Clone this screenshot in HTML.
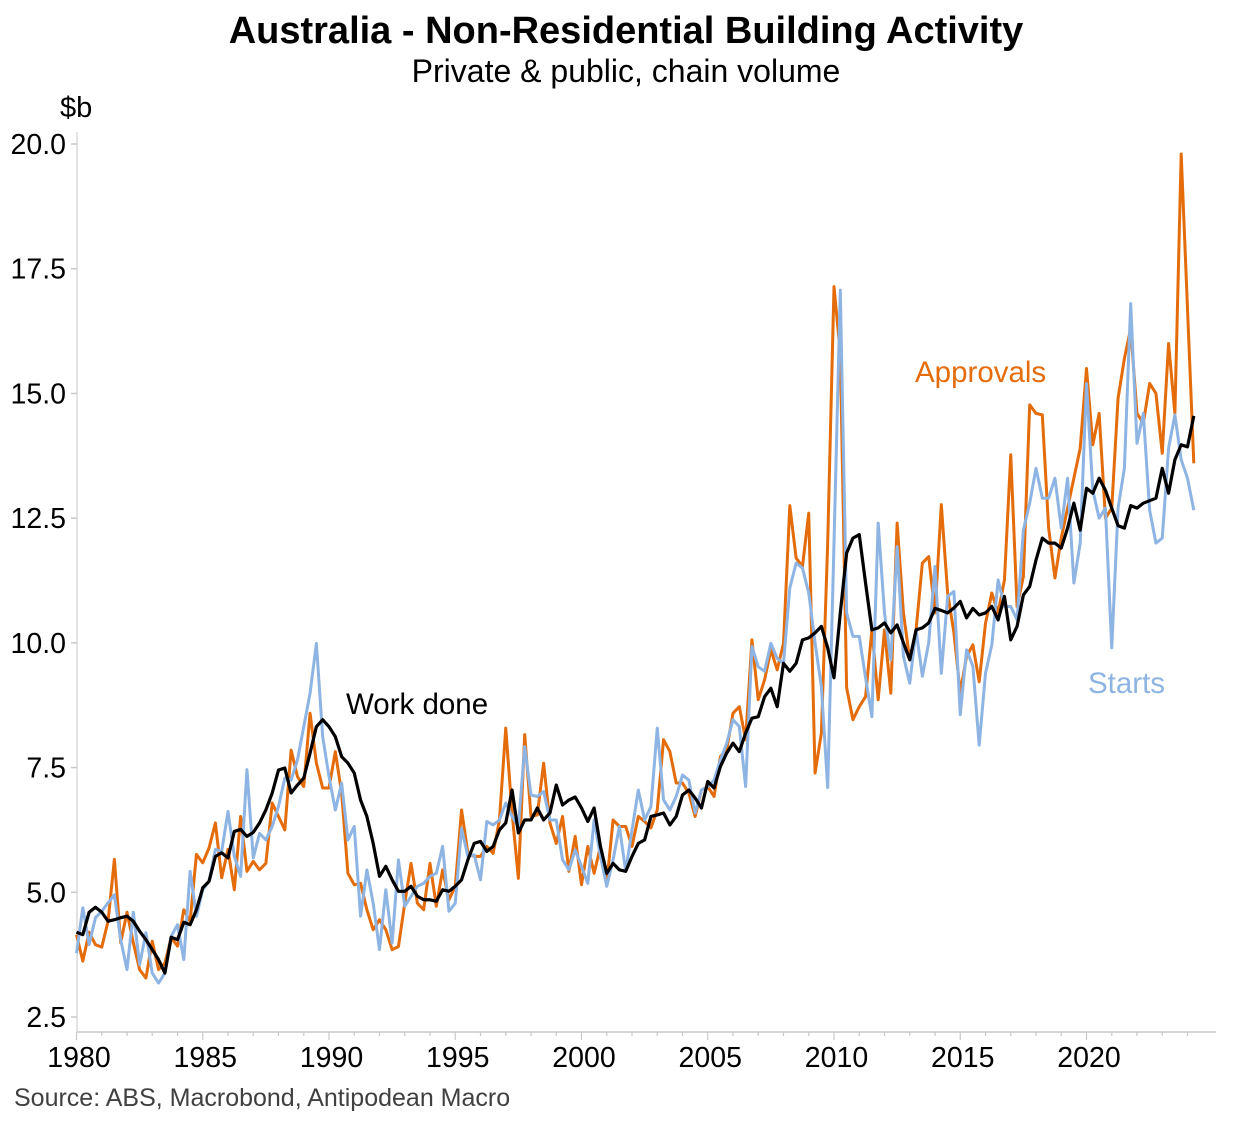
<!DOCTYPE html>
<html><head><meta charset="utf-8"><style>
html,body{margin:0;padding:0;background:#fff;}
svg text{font-family:"Liberation Sans",Arial,sans-serif;}
</style></head><body>
<svg id="chart" width="1253" height="1122" viewBox="0 0 1253 1122" xmlns="http://www.w3.org/2000/svg">
<text x="626" y="43" text-anchor="middle" font-size="38" font-weight="bold">Australia - Non-Residential Building Activity</text>
<text x="626" y="82" text-anchor="middle" font-size="32">Private &amp; public, chain volume</text>
<text x="60" y="117" font-size="29">$b</text>
<g id="axes"></g>
<g id="series"></g>
<text x="915" y="382" font-size="29.5" fill="#E46C0A">Approvals</text>
<text x="346" y="714" font-size="29.5" fill="#000">Work done</text>
<text x="1088" y="693" font-size="29.5" fill="#8DB4E2">Starts</text>
<text x="14" y="1106" font-size="25" fill="#404040">Source: ABS, Macrobond, Antipodean Macro</text>
</svg>
<script>
const startYear = 1980;
const yTicks = [2.5, 5.0, 7.5, 10.0, 12.5, 15.0, 17.5, 20.0];
const xTicks = [1980, 1985, 1990, 1995, 2000, 2005, 2010, 2015, 2020];
const workDone = [4.2,4.15,4.6,4.7,4.6,4.42,4.45,4.49,4.52,4.42,4.22,4.05,3.85,3.65,3.38,4.1,4.05,4.4,4.35,4.65,5.09,5.22,5.72,5.79,5.69,6.22,6.26,6.12,6.2,
6.39,6.65,6.99,7.45,7.49,6.99,7.15,7.29,7.79,8.32,8.46,8.32,8.12,7.72,7.59,7.39,6.85,6.52,5.98,5.32,5.52,5.25,5.02,5.02,5.12,4.92,4.85,4.85,4.82,
5.05,5.02,5.12,5.25,5.65,5.98,6.02,5.82,5.92,6.25,6.39,7.05,6.19,6.45,6.45,6.69,6.45,6.59,7.15,6.75,6.85,6.91,6.69,6.42,6.69,5.92,5.38,5.58,5.45,
5.42,5.72,5.98,6.05,6.52,6.55,6.59,6.35,6.52,6.95,7.05,6.89,6.69,7.22,7.09,7.52,7.79,7.99,7.82,8.19,8.49,8.52,8.92,9.09,8.72,9.59,9.43,9.59,10.06,
10.1,10.2,10.33,9.9,9.3,10.6,11.8,12.1,12.17,11.2,10.26,10.3,10.4,10.2,10.36,10.0,9.66,10.26,10.3,10.4,
10.69,10.65,10.6,10.7,10.83,10.5,10.69,10.56,10.6,10.73,10.46,10.93,10.06,10.33,10.96,11.13,11.66,
12.1,12.0,12.0,11.9,12.3,12.8,12.26,13.1,13.0,13.3,13.06,12.7,12.35,12.3,12.75,12.7,12.8,12.85,12.9,13.5,13.0,13.67,13.97,13.93,14.55];
const approvals = [4.15,3.62,4.2,3.95,3.9,4.42,5.66,3.99,4.6,3.99,3.45,3.28,4.02,3.45,3.58,4.09,3.92,4.65,4.42,5.76,5.59,5.89,6.39,5.29,5.86,5.05,6.52,5.42,5.62,
5.45,5.58,6.79,6.52,6.25,7.85,7.32,7.12,8.59,7.59,7.09,7.09,7.82,6.99,5.38,5.15,5.18,4.65,4.25,4.45,4.25,3.85,3.91,4.78,5.58,4.78,4.65,5.58,4.72,
5.45,4.85,5.12,6.65,5.78,5.72,5.72,5.92,5.78,6.45,8.29,6.59,5.28,8.16,6.52,6.55,7.59,6.39,5.98,6.52,5.42,6.12,5.15,5.92,5.38,5.92,5.18,6.45,6.32,
6.32,5.92,6.52,6.42,6.29,6.65,8.06,7.82,7.19,7.19,6.99,6.52,7.05,7.12,6.92,7.72,7.86,8.59,8.72,8.06,10.06,8.86,9.26,9.86,9.46,9.99,
12.75,11.7,11.53,12.6,7.39,8.19,12.0,17.14,15.8,9.1,8.46,8.72,8.92,10.26,8.86,10.26,8.99,12.4,10.6,9.66,10.26,11.6,11.73,
10.6,12.77,11.0,10.2,9.0,9.73,9.96,9.22,10.39,11.0,10.6,11.26,13.77,10.73,11.33,14.77,14.6,
14.57,12.3,11.3,12.1,12.7,13.3,13.9,15.5,13.97,14.6,12.5,12.7,14.9,15.7,16.3,14.6,14.4,15.2,15.0,13.8,16.0,14.6,19.8,16.7,13.6];
const starts = [3.78,4.69,3.95,4.49,4.62,4.79,4.95,4.05,3.45,4.6,3.55,4.19,3.38,3.18,3.38,4.12,4.35,3.65,5.42,4.52,5.05,5.22,5.86,5.82,6.62,5.72,5.32,7.46,5.69,
6.18,6.05,6.32,6.72,7.29,7.25,7.65,8.32,8.99,9.99,8.12,7.32,6.65,7.19,6.05,6.32,4.52,5.45,4.78,3.85,5.05,3.98,5.65,4.72,4.92,5.12,5.18,5.32,5.38,
5.92,4.62,4.78,6.28,5.72,5.75,5.25,6.42,6.35,6.45,6.79,6.52,6.32,7.92,6.95,6.92,7.02,6.45,6.45,5.65,5.45,5.85,5.52,5.18,6.45,5.72,5.12,5.65,6.32,
5.42,6.25,7.05,6.45,6.72,8.29,6.85,6.65,6.92,7.35,7.25,6.59,7.05,7.12,7.25,7.65,7.99,8.46,8.32,7.12,9.93,9.52,9.43,9.99,9.69,9.59,
11.1,11.6,11.5,11.0,10.0,9.12,7.1,12.0,17.07,10.6,10.13,10.13,9.3,8.52,12.4,10.6,9.66,11.93,9.73,9.19,10.26,9.33,10.0,
11.53,9.39,10.93,11.03,8.56,9.86,9.53,7.95,9.39,9.96,11.26,10.73,10.73,10.46,12.26,12.8,13.5,
12.9,12.9,13.3,12.3,13.3,11.2,12.0,15.2,13.06,12.5,12.7,9.9,12.7,13.5,16.8,14.0,14.6,12.66,12.0,12.1,13.9,14.57,13.67,13.3,12.66];

const NS = "http://www.w3.org/2000/svg";
function xPos(t){ return 76.5 + (t - startYear) * 25.25; }
function yPos(v){ return 144 + (20 - v) * (873 / 17.5); }
function mk(tag, attrs, parent){ const e = document.createElementNS(NS, tag); for (const k in attrs) e.setAttribute(k, attrs[k]); parent.appendChild(e); return e; }

const axes = document.getElementById('axes');
const yAxis = mk('line', {x1:77, y1:132, x2:77, y2:1032, stroke:'#d0d0d0', 'stroke-width':1.2}, axes);


const xAxis = mk('line', {x1:77, y1:1032, x2:1216, y2:1032, stroke:'#c8c8c8', 'stroke-width':1.5}, axes);


yTicks.forEach(v => {
  const y = yPos(v);
  const tk = mk('line', {x1:71, y1:y, x2:77, y2:y, stroke:'#c8c8c8', 'stroke-width':1.5}, axes);
  
  
  const lb = mk('text', {x:66, y:y + 10, 'text-anchor':'end', 'font-size':28.5}, axes);
  lb.textContent = v.toFixed(1);
  
  
});
for (let yr = 1980; yr <= 2024; yr++) {
  const x = xPos(yr);
  const tk = mk('line', {x1:x, y1:1032, x2:x, y2:(yr % 5 === 0 ? 1040 : 1036), stroke:'#c8c8c8', 'stroke-width':1.2}, axes);
  
  
}
xTicks.forEach(yr => {
  const lb = mk('text', {x:xPos(yr) + 2.5, y:1067, 'text-anchor':'middle', 'font-size':28.5}, axes);
  lb.textContent = String(yr);
  
  
});

const seriesG = document.getElementById('series');
function drawLine(vals, color, name, w){
  const d = vals.map((v, i) => (i ? 'L' : 'M') + xPos(startYear + i / 4).toFixed(2) + ',' + yPos(v).toFixed(2)).join(' ');
  const p = mk('path', {d:d, fill:'none', stroke:color, 'stroke-width':w, 'stroke-linejoin':'round'}, seriesG);
  
  
}
drawLine(approvals, '#E46C0A', 'approvals-line', 3);
drawLine(starts, '#8DB4E2', 'starts-line', 3);
drawLine(workDone, '#000000', 'work-done-line', 3.2);
</script>
</body></html>
